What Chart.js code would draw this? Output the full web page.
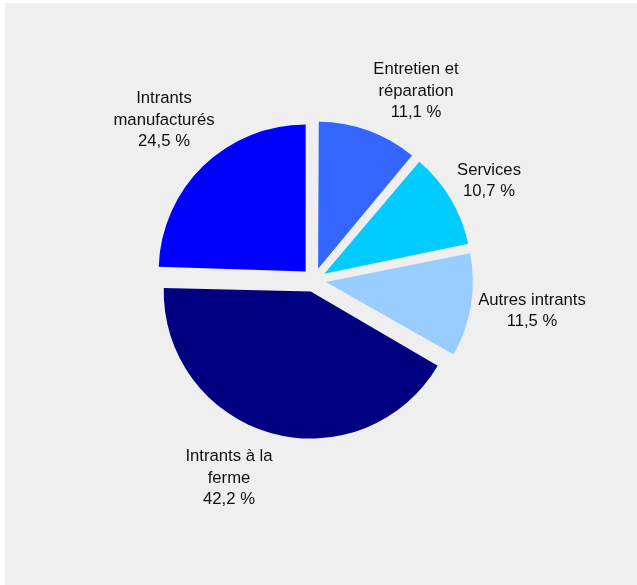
<!DOCTYPE html>
<html lang="fr">
<head>
<meta charset="utf-8">
<title>Répartition des intrants</title>
<script src="https://cdn.jsdelivr.net/npm/chart.js@4/dist/chart.umd.min.js"></script>
<style>
  html, body { margin: 0; padding: 0; background: #fff; }
  #wrap { position: absolute; left: 5px; top: 3px; width: 632px; height: 582px; background: #efefef; }
  #pie { display: block; }
</style>
</head>
<body>
<div id="wrap"><canvas id="pie" width="632" height="582"></canvas></div>
<script>
// slices, clockwise from 12 o'clock
const categories = [
  ['Entretien et', 'réparation'],
  ['Services'],
  ['Autres intrants'],
  ['Intrants à la', 'ferme'],
  ['Intrants', 'manufacturés']
];
const shares = [11.1, 10.7, 11.5, 42.2, 24.5];
const colours = ['#3366ff', '#00ccff', '#99ccff', '#000080', '#0000ff'];

// label block centres, relative to the pie centre
const labelNudge = [[102, -189], [175, -99], [218, 31], [-85, 198], [-150, -160]];

const EXPLODE = 48; // chart.js draws offset / 4 px

const fmtPct = v => v.toFixed(1).replace('.', ',') + ' %';

// chart.js grows small exploded slices a bit; pull them back so all share one radius
const evenRadius = {
  id: 'evenRadius',
  afterDatasetUpdate(chart) {
    chart.getDatasetMeta(0).data.forEach(arc => {
      const fix = 1 - Math.sin(Math.min(Math.PI, arc.circumference || 0));
      arc.outerRadius -= (EXPLODE / 4) * fix;
    });
  }
};

const pieLabels = {
  id: 'pieLabels',
  afterDatasetsDraw(chart) {
    const ctx = chart.ctx;
    const arcs = chart.getDatasetMeta(0).data;
    const lh = 21.7;
    ctx.save();
    ctx.font = '16.7px "Liberation Sans", Arial, sans-serif';
    ctx.fillStyle = '#111';
    ctx.textAlign = 'center';
    ctx.textBaseline = 'middle';
    arcs.forEach((arc, i) => {
      const lines = categories[i].concat([fmtPct(shares[i])]);
      const cx = arc.x + labelNudge[i][0];
      const cy = arc.y + labelNudge[i][1];
      const top = cy - (lines.length - 1) * lh / 2;
      lines.forEach((t, j) => ctx.fillText(t, cx, top + j * lh));
    });
    ctx.restore();
  }
};

new Chart(document.getElementById('pie'), {
  type: 'pie',
  data: {
    labels: categories.map(c => c.join(' ')),
    datasets: [{
      data: shares,
      backgroundColor: colours,
      borderWidth: 0,
      offset: EXPLODE,
      hoverOffset: 0
    }]
  },
  options: {
    responsive: false,
    animation: false,
    radius: 147,
    layout: { padding: { left: 0, right: 14, top: 0, bottom: 28 } },
    plugins: { legend: { display: false }, tooltip: { enabled: false } }
  },
  plugins: [evenRadius, pieLabels]
});
</script>
</body>
</html>
